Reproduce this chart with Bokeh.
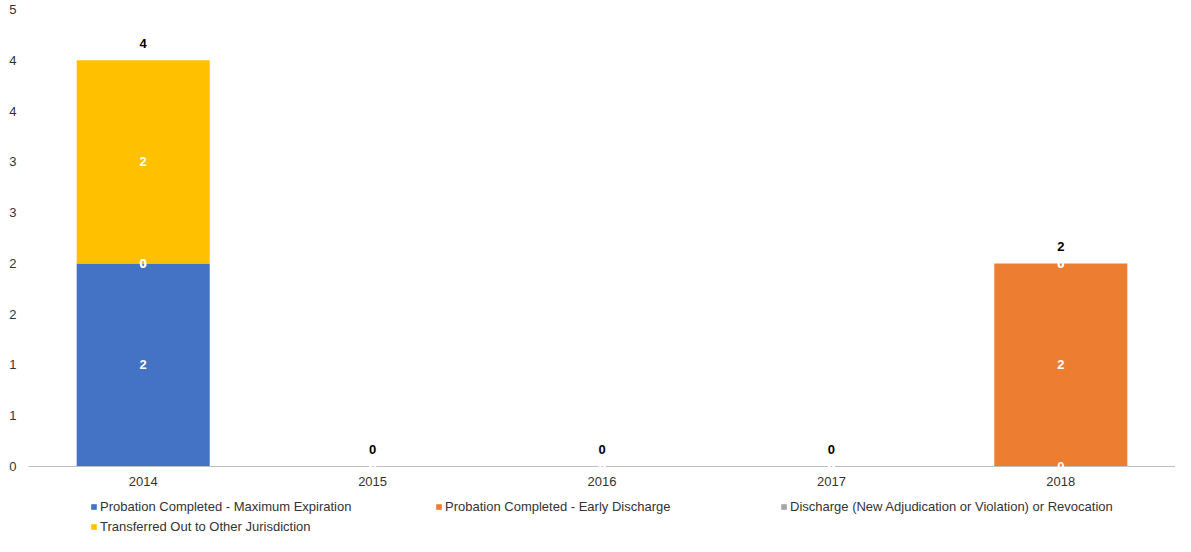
from bokeh.plotting import figure
from bokeh.layouts import column
from bokeh.models import (ColumnDataSource, FactorRange, Range1d, FixedTicker,
                          CustomJSTickFormatter, Legend, LegendItem)
from bokeh.core.properties import value
from bokeh.embed import file_html
from bokeh.resources import INLINE

# ---- data ----
years = ["2014", "2015", "2016", "2017", "2018"]
max_expiration = [2, 0, 0, 0, 0]
early_discharge = [0, 0, 0, 0, 2]
revocation = [0, 0, 0, 0, 0]
transferred = [2, 0, 0, 0, 0]
series_names = [
    "Probation Completed - Maximum Expiration",
    "Probation Completed - Early Discharge",
    "Discharge (New Adjudication or Violation) or Revocation",
    "Transferred Out to Other Jurisdiction",
]
series_keys = ["max_expiration", "early_discharge", "revocation", "transferred"]
colors = ["#4472C4", "#ED7D31", "#A5A5A5", "#FFC000"]
y_ticks = [0, 0.5, 1, 1.5, 2, 2.5, 3, 3.5, 4, 4.5]

FONT = "Liberation Sans"
FS = "13px"
W = 1175

src = ColumnDataSource(dict(year=years, max_expiration=max_expiration,
                            early_discharge=early_discharge,
                            revocation=revocation, transferred=transferred))

p = figure(x_range=FactorRange(factors=years, range_padding=0),
           y_range=Range1d(0, 4.5),
           width=W, height=488, output_backend="svg", toolbar_location=None,
           min_border_left=28, min_border_right=0, min_border_top=9,
           min_border_bottom=0)

renderers = p.vbar_stack(series_keys, x="year", width=0.58, source=src,
                         fill_color=colors, line_color=None)

# segment labels (white) and totals (black)
lx, ly, lt = [], [], []
tx, ty, tt = [], [], []
series_vals = [max_expiration, early_discharge, revocation, transferred]
for j, yr in enumerate(years):
    bottom = 0
    for vals in series_vals:
        v = vals[j]
        lx.append(yr)
        ly.append(bottom + v / 2)
        lt.append(str(v))
        bottom += v
    tx.append(yr)
    ty.append(bottom)
    tt.append(str(bottom))

p.text(x="x", y="y", text="t", source=ColumnDataSource(dict(x=lx, y=ly, t=lt)),
       text_align="center", text_baseline="middle", text_color="white",
       text_font=value(FONT), text_font_style="bold", text_font_size=FS,
       level="overlay")
p.text(x="x", y="y", text="t", source=ColumnDataSource(dict(x=tx, y=ty, t=tt)),
       text_align="center", text_baseline="middle", text_color="#000000",
       text_font=value(FONT), text_font_style="bold", text_font_size=FS,
       y_offset=-17, level="overlay")

# axes
p.xgrid.grid_line_color = None
p.ygrid.grid_line_color = None
p.outline_line_color = None

p.yaxis.ticker = FixedTicker(ticks=y_ticks)
p.yaxis.formatter = CustomJSTickFormatter(code="return Math.round(tick).toString();")
p.yaxis.axis_line_color = None
p.yaxis.major_tick_line_color = None
p.yaxis.minor_tick_line_color = None
p.yaxis.major_tick_out = 0
p.yaxis.major_label_standoff = 12
p.yaxis.major_label_text_font = FONT
p.yaxis.major_label_text_font_size = FS
p.yaxis.major_label_text_color = "#333333"

p.xaxis.axis_line_color = "#BFBFBF"
p.xaxis.axis_line_width = 1
p.xaxis.major_tick_line_color = None
p.xaxis.minor_tick_line_color = None
p.xaxis.major_tick_out = 0
p.xaxis.major_label_standoff = 10
p.xaxis.major_label_text_font = FONT
p.xaxis.major_label_text_font_size = FS
p.xaxis.major_label_text_color = "#333333"

# ---- legend in its own strip below (same stacked bars, kept out of view) ----
pl = figure(width=W, height=48, output_backend="svg", toolbar_location=None,
            x_range=FactorRange(factors=years, range_padding=0),
            y_range=Range1d(10, 11),
            min_border=0, outline_line_color=None)
pl.axis.visible = False
pl.grid.visible = False
leg_renderers = pl.vbar_stack(series_keys, x="year", width=0.58, source=src,
                              fill_color=colors, line_color=None)
items = [LegendItem(label=n, renderers=[r]) for n, r in zip(series_names, leg_renderers)]
legend = Legend(items=items, location=(62, 0), orientation="horizontal", ncols=3,
                glyph_width=7, glyph_height=7, label_standoff=3,
                label_width=335, label_height=20, spacing=0, padding=0, margin=0,
                border_line_color=None, background_fill_alpha=0,
                label_text_font=FONT, label_text_font_size=FS,
                label_text_color="#333333")
pl.add_layout(legend, "center")

layout = column(p, pl, spacing=0)
open("out.html", "w").write(file_html(layout, INLINE))
